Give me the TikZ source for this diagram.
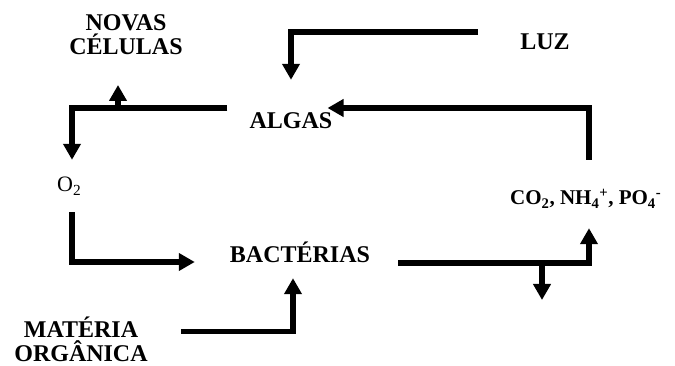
\documentclass[tikz,border=0pt]{standalone}
\usepackage{fontspec}
\setmainfont{Liberation Serif}
\usetikzlibrary{arrows.meta,calc}

\begin{document}
\begin{tikzpicture}[
  x=1pt, y=-1pt,
  every node/.style={inner sep=0pt},
  species/.style ={font=\bfseries\fontsize{24}{24}\selectfont, text height=16pt, text depth=0pt},
  twolines/.style={font=\bfseries\fontsize{24}{24.5}\selectfont, align=center, anchor=south},
  chem/.style    ={text depth=0pt, anchor=base west},
  flow/.style    ={draw=black, line width=5.2pt, -{Triangle[length=16pt,width=17pt]}}]

\useasboundingbox (0,0) rectangle (675,366);

% a subscript followed by a superscript
\newcommand{\subsup}[2]{\textsubscript{#1}\textsuperscript{#2}}

% ---------------------------- the labels ------------------------------
\node[species] (luz)   at (545,42)  {LUZ};
\node[species] (algas) at (291,121) {ALGAS};
\node[species] (bact)  at (300,255) {BACTÉRIAS};
\node[twolines] (novas)   at (126,55)  {NOVAS\\CÉLULAS};
\node[twolines] (materia) at (81,362)  {MATÉRIA\\ORGÂNICA};
\node[chem, text height=15pt, font=\fontsize{22}{22}\selectfont] (o2) at (57,192)
  {O\textsubscript{2}};
\node[chem, text height=13pt, font=\bfseries\fontsize{21}{21}\selectfont] (nutr) at (510,205)
  {CO\textsubscript{2}, NH\subsup{4}{+}, PO\subsup{4}{-}};

% --------------------------- upper cycle ------------------------------
\draw[flow, shorten >=33pt] ([xshift=-42pt,yshift=10pt]luz.west) -| (algas.north);
\draw[flow, shorten <=32pt, shorten >=-5pt]
  ([xshift=79pt]nutr.north west) |- ([yshift=13pt]algas.east);
\draw[flow, shorten >=17pt] ([xshift=-22pt,yshift=13pt]algas.west) -| ([xshift=15pt]o2.north west);
\coordinate (split) at (118,108);
\draw[flow, shorten >=30pt] (split) -- (split |- novas.south);

% --------------------------- lower cycle ------------------------------
\draw[flow, shorten <=20pt, shorten >=35pt]
  ([xshift=15pt]o2.south west) |- ([yshift=-7pt]bact.west);
\draw[flow, shorten >=15pt] ([xshift=33pt,yshift=8pt]materia.east) -| ([xshift=-7pt]bact.south);
\draw[flow, shorten >=23pt] ([xshift=28pt,yshift=-8pt]bact.east) -| ([xshift=79pt]nutr.south west);
\coordinate (drain) at (542,263);
\coordinate (sink)  at (542,300);
\draw[flow] (drain) -- (sink);

\end{tikzpicture}
\end{document}
